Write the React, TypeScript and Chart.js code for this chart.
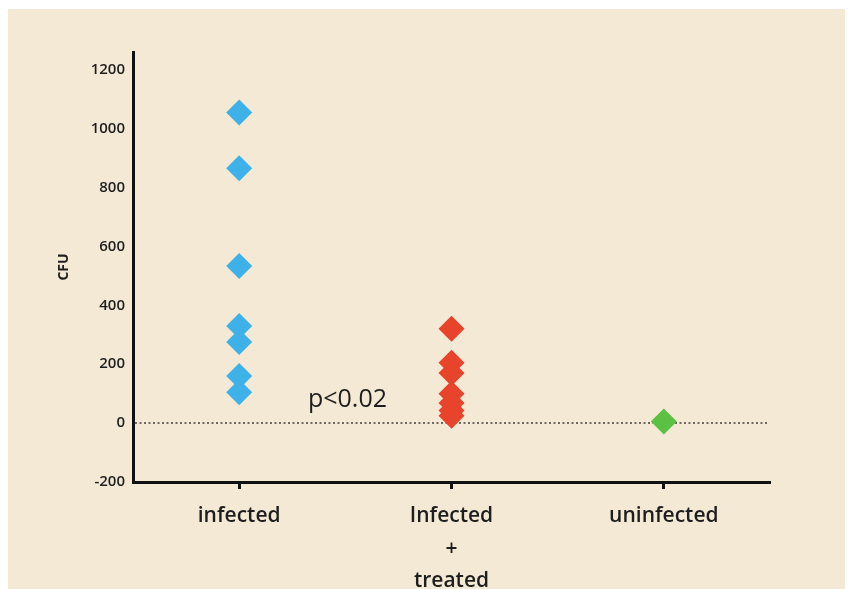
import React, { useEffect, useRef } from "react";
import { Chart, registerables } from "chart.js";

Chart.register(...registerables);

const categories: (string | string[])[] = ["infected", ["Infected", "+", "treated"], "uninfected"];
const categoryKeys = ["infected", "Infected + treated", "uninfected"];
const infectedValues = [1055, 865, 533, 330, 275, 160, 105];
const treatedValues = [320, 205, 170, 100, 68, 43, 25];
const uninfectedValues = [5];
const yTicks = [-200, 0, 200, 400, 600, 800, 1000, 1200];
const annotationText = "p<0.02";

export default function App() {
  const ref = useRef<HTMLCanvasElement | null>(null);
  useEffect(() => {
    if (!ref.current) return;
    const bgPlugin = {
      id: "bg",
      beforeDraw(chart: any) {
        const { ctx, width, height } = chart;
        ctx.save();
        ctx.fillStyle = "#F4E9D5";
        ctx.fillRect(0, 0, width, height);
        ctx.restore();
      },
      beforeDatasetsDraw(chart: any) {
        const { ctx, chartArea, scales } = chart;
        const y0 = scales.y.getPixelForValue(0);
        ctx.save();
        ctx.strokeStyle = "#6e6863";
        ctx.lineWidth = 2;
        ctx.setLineDash([2, 2.5]);
        ctx.beginPath();
        ctx.moveTo(chartArea.left + 2, y0);
        ctx.lineTo(chartArea.right - 3, y0);
        ctx.stroke();
        ctx.restore();
        ctx.save();
        ctx.fillStyle = "#1e1e1e";
        ctx.font = "500 25px 'Open Sans'";
        ctx.textAlign = "center";
        ctx.textBaseline = "middle";
        const tx = scales.x.getPixelForValue(0) + (scales.x.getPixelForValue(1) - scales.x.getPixelForValue(0)) * 0.51;
        ctx.fillText(annotationText, tx, scales.y.getPixelForValue(80));
        ctx.restore();
      },
    };
    const mk = (vals: number[], key: string, color: string) => ({
      data: vals.map((v) => ({ x: key, y: v })),
      showLine: false,
      pointStyle: "rectRot",
      pointRadius: 13,
      pointBackgroundColor: color,
      pointBorderColor: color,
      pointBorderWidth: 0,
      backgroundColor: color,
      borderColor: color,
    });
    const chart = new Chart(ref.current, {
      type: "line",
      data: {
        labels: categoryKeys,
        datasets: [
          mk(infectedValues, categoryKeys[0], "#3fb1e9"),
          mk(treatedValues, categoryKeys[1], "#e8432b"),
          mk(uninfectedValues, categoryKeys[2], "#5cc043"),
        ],
      },
      options: {
        animation: false,
        responsive: false,
        maintainAspectRatio: false,
        layout: { padding: { left: 48, top: 43, right: 75, bottom: 0 } },
        plugins: { legend: { display: false }, tooltip: { enabled: false } },
        scales: {
          x: {
            type: "category",
            offset: true,
            grid: {
              offset: false,
              drawOnChartArea: false,
              drawTicks: true,
              tickLength: 7,
              tickWidth: 3,
              color: "#111",
            },
            border: { display: true, color: "#111", width: 3 },
            ticks: {
              color: "#1e1e1e",
              font: { family: "'Open Sans'", size: 21, weight: "600", lineHeight: 1.55 },
              padding: 11,
              callback: (_v: any, i: number) => categories[i],
            },
            afterFit: (s: any) => {
              s.height = 107;
            },
          },
          y: {
            min: -200,
            max: 1260,
            afterBuildTicks: (s: any) => {
              s.ticks = yTicks.map((v) => ({ value: v }));
            },
            grid: { display: false, drawTicks: false },
            border: { display: true, color: "#111", width: 3 },
            ticks: {
              color: "#1e1e1e",
              font: { family: "'Open Sans'", size: 15, weight: "600" },
              padding: 8,
              callback: (v: any) => String(v),
            },
            title: {
              display: true,
              text: "CFU",
              color: "#1e1e1e",
              font: { family: "'Open Sans'", size: 14, weight: "bold" },
              padding: { top: 0, bottom: 0 },
            },
            afterFit: (s: any) => {
              s.width = 77;
            },
          },
        },
      },
      plugins: [bgPlugin],
    } as any);
    return () => chart.destroy();
  }, []);
  return (
    <div style={{ paddingTop: 1, background: "#fff" }}>
      <canvas ref={ref} width={837} height={580} style={{ display: "block", width: 837, height: 580 }} />
    </div>
  );
}
